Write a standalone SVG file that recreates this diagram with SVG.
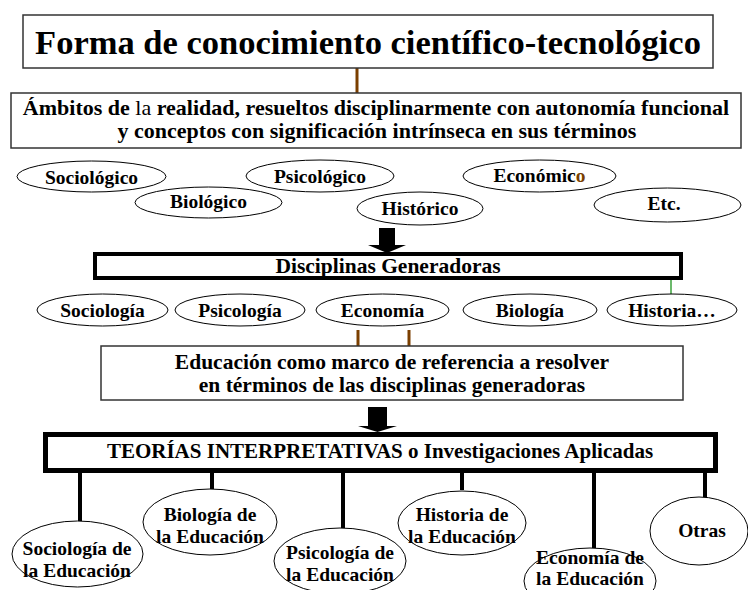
<svg xmlns="http://www.w3.org/2000/svg" width="748" height="590" viewBox="0 0 748 590">
<style>
text{font-family:"Liberation Serif","Times New Roman",serif;font-weight:bold;fill:#000;text-anchor:middle}
.thin{fill:#fff;stroke:#333;stroke-width:1.5}
.ell{fill:#fff;stroke:#000;stroke-width:1}
.thick{fill:#fff;stroke:#000}
.brown{stroke:#7b3f00;stroke-width:3}
.blk{stroke:#000;stroke-width:4}
.e{font-size:19.5px}
</style>
<rect width="748" height="590" fill="#fff"/>
<g id="connectors">
<line class="brown" x1="357" y1="68" x2="357" y2="93"/>
<polygon points="379,228 395,228 395,245 406,245 387,253 368,245 379,245" fill="#000"/>
<line x1="671" y1="280" x2="671" y2="294" stroke="#0a8a0a" stroke-width="1.2"/>
<line class="brown" x1="358" y1="330" x2="358" y2="346"/>
<line class="brown" x1="409" y1="330" x2="409" y2="346"/>
<polygon points="368,407 387,407 387,426 397,426 377.5,432 358,426 368,426" fill="#000"/>
<line class="blk" x1="80" y1="473" x2="80" y2="521"/>
<line class="blk" x1="212" y1="473" x2="212" y2="489"/>
<line class="blk" x1="343" y1="473" x2="343" y2="528"/>
<line class="blk" x1="462" y1="473" x2="462" y2="490"/>
<line class="blk" x1="594" y1="473" x2="594" y2="548"/>
<line class="blk" x1="705" y1="473" x2="705" y2="497"/>
</g>
<g id="title">
<rect class="thin" x="23" y="15" width="690" height="53"/>
<text x="368" y="54" font-size="34.5">Forma de conocimiento científico-tecnológico</text>
</g>
<g id="ambitos">
<rect class="thin" x="11" y="93" width="730" height="55"/>
<text x="376" y="115" font-size="22">Ámbitos de <tspan font-weight="normal">la</tspan> realidad, resueltos disciplinarmente con autonomía funcional</text>
<text x="377" y="138" font-size="22">y  conceptos con significación intrínseca en sus términos</text>
</g>
<g id="sociologico"><ellipse class="ell" cx="91.5" cy="176.5" rx="74.5" ry="15.5"/><text class="e" x="91.5" y="184">Sociológico</text></g>
<g id="psicologico"><ellipse class="ell" cx="320" cy="176" rx="74" ry="16"/><text class="e" x="320" y="183">Psicológico</text></g>
<g id="economico"><ellipse class="ell" cx="539.5" cy="176" rx="76.5" ry="16"/><text class="e" x="539.5" y="182">Económic<tspan fill="#7b3f00">o</tspan></text></g>
<g id="biologico"><ellipse class="ell" cx="208.5" cy="202.5" rx="73.5" ry="15.5"/><text class="e" x="208.5" y="208">Biológico</text></g>
<g id="historico"><ellipse class="ell" cx="420" cy="208.5" rx="63" ry="16.5"/><text class="e" x="420" y="215">Histórico</text></g>
<g id="etc"><ellipse class="ell" cx="667.5" cy="205" rx="73.5" ry="17"/><text class="e" x="664" y="210">Etc.</text></g>
<g id="disciplinas">
<rect class="thick" x="95" y="254" width="586" height="24" stroke-width="4"/>
<text x="388" y="273" font-size="21.5">Disciplinas Generadoras</text>
</g>
<g id="sociologia"><ellipse class="ell" cx="102.5" cy="310" rx="65.5" ry="16"/><text class="e" x="102.5" y="317">Sociología</text></g>
<g id="psicologia"><ellipse class="ell" cx="240" cy="310" rx="65" ry="16"/><text class="e" x="240" y="317">Psicología</text></g>
<g id="economia"><ellipse class="ell" cx="382.5" cy="310" rx="66.5" ry="16"/><text class="e" x="382.5" y="317">Economía</text></g>
<g id="biologia"><ellipse class="ell" cx="530" cy="310" rx="67" ry="16"/><text class="e" x="530" y="317">Biología</text></g>
<g id="historia"><ellipse class="ell" cx="672" cy="310" rx="65" ry="16"/><text class="e" x="672" y="317">Historia…</text></g>
<g id="educacion">
<rect class="thin" x="101" y="346" width="582" height="54"/>
<text x="392" y="369" font-size="21.5">Educación como marco de referencia a resolver</text>
<text x="392" y="392" font-size="21.5">en términos de las disciplinas generadoras</text>
</g>
<g id="teorias">
<rect class="thick" x="45.5" y="434.5" width="670" height="36" stroke-width="5"/>
<text x="380" y="458" font-size="21">TEORÍAS INTERPRETATIVAS o Investigaciones Aplicadas</text>
</g>
<g id="soc-edu"><ellipse class="ell" cx="77.5" cy="554" rx="65.5" ry="33"/><text class="e" x="77" y="555">Sociología de</text><text class="e" x="77" y="577">la Educación</text></g>
<g id="bio-edu"><ellipse class="ell" cx="210" cy="522" rx="67" ry="33"/><text class="e" x="210" y="521">Biología de</text><text class="e" x="210" y="543">la Educación</text></g>
<g id="psi-edu"><ellipse class="ell" cx="340" cy="561" rx="66" ry="33"/><text class="e" x="340" y="559">Psicología de</text><text class="e" x="340" y="581">la Educación</text></g>
<g id="his-edu"><ellipse class="ell" cx="462" cy="523" rx="64" ry="32"/><text class="e" x="462" y="521">Historia de</text><text class="e" x="462" y="543">la Educación</text></g>
<g id="eco-edu"><ellipse class="ell" cx="590" cy="581" rx="66" ry="33"/><text class="e" x="590" y="564">Economía de</text><text class="e" x="590" y="585">la Educación</text></g>
<g id="otras"><ellipse class="ell" cx="699" cy="531" rx="49" ry="34"/><text class="e" x="702" y="537">Otras</text></g>
</svg>
